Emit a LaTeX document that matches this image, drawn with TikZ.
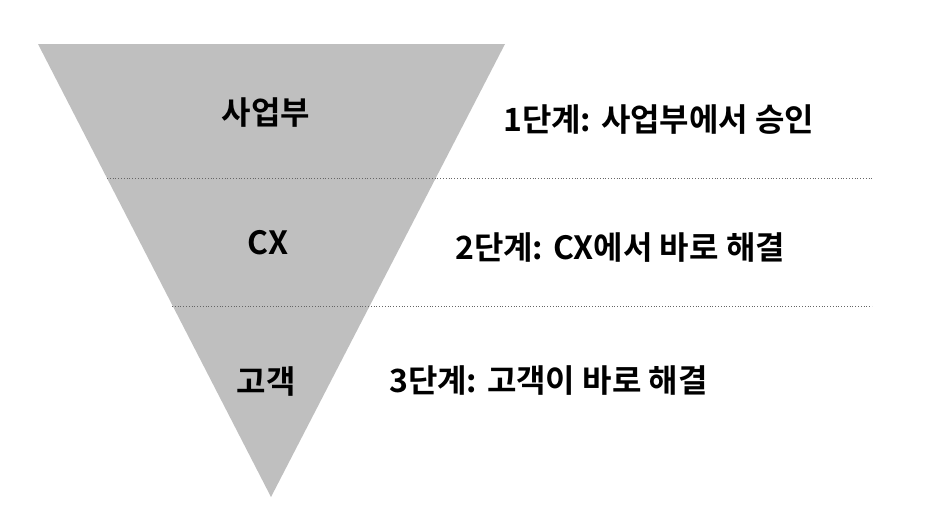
\documentclass[tikz,border=0pt]{standalone}
\usepackage{fontspec}
\setmainfont{Noto Sans CJK KR}[BoldFont={* Bold}]
\definecolor{tri}{RGB}{191,191,191}
\begin{document}
\begin{tikzpicture}[x=1pt,y=-1pt,
  lab/.style={font=\bfseries\fontsize{32}{36}\selectfont, inner sep=0pt},
  sep/.style={dotted, line width=0.8pt, color=black!60}]
\useasboundingbox (0,0) rectangle (952,520);
\fill[tri] (38,44) -- (505,44) -- (271,497) -- cycle;
\coordinate (l1) at (107,178); \coordinate (r1) at (872,178);
\coordinate (l2) at (172,306); \coordinate (r2) at (872,306);
\draw[sep] (l1) -- (r1);
\draw[sep] (l2) -- (r2);
\node[lab] (a) at (266,113) {사업부};
\node[lab] (b) at (268,243) {CX};
\node[lab] (c) at (266,382) {고객};
\node[lab,anchor=west] (ta) at (503,120) {1단계: 사업부에서 승인};
\node[lab,anchor=west] (tb) at (455,248) {2단계: CX에서 바로 해결};
\node[lab,anchor=west] (tc) at (389,381) {3단계: 고객이 바로 해결};
\end{tikzpicture}
\end{document}
